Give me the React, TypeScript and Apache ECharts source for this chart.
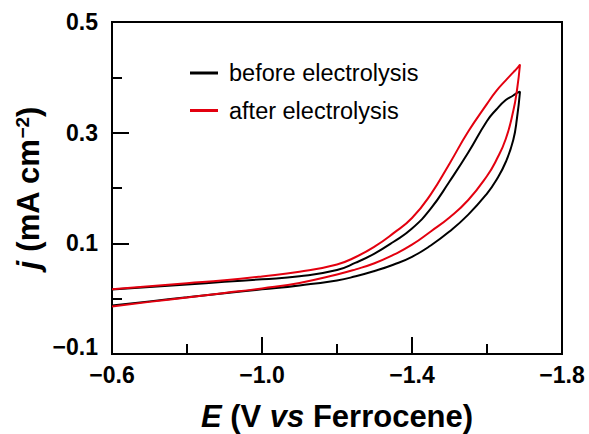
import React, { useEffect, useRef } from "react";
import * as echarts from "echarts";

// Potential (V vs Ferrocene) sampling for the forward (cathodic) and reverse branches
const E_FWD = [-0.6, -0.7, -0.8, -0.9, -1.0, -1.1, -1.2, -1.25, -1.3, -1.35, -1.4, -1.45, -1.5, -1.55, -1.6, -1.625, -1.65, -1.67, -1.68, -1.688];
const E_REV = [-1.688, -1.68, -1.67, -1.65, -1.625, -1.6, -1.55, -1.5, -1.45, -1.4, -1.35, -1.3, -1.25, -1.2, -1.1, -1.0, -0.9, -0.8, -0.7, -0.6];

// Current density (mA cm^-2)
const BEFORE_FWD = [0.0166, 0.0211, 0.0256, 0.0305, 0.035, 0.0405, 0.0518, 0.065, 0.0815, 0.1024, 0.1268, 0.1628, 0.2118, 0.264, 0.3211, 0.3419, 0.359, 0.3672, 0.3717, 0.374];
const BEFORE_REV = [0.374, 0.3265, 0.2868, 0.247, 0.2145, 0.1899, 0.1519, 0.1214, 0.0961, 0.0757, 0.0614, 0.05, 0.0405, 0.033, 0.024, 0.0168, 0.0099, 0.0025, -0.0049, -0.0123];
const AFTER_FWD = [0.0169, 0.0224, 0.0278, 0.0332, 0.0402, 0.0486, 0.0619, 0.0753, 0.094, 0.118, 0.1458, 0.1885, 0.244, 0.302, 0.352, 0.3755, 0.3945, 0.4089, 0.4161, 0.4232];
const AFTER_REV = [0.4232, 0.3771, 0.3392, 0.2886, 0.2506, 0.2217, 0.1783, 0.1467, 0.1215, 0.0975, 0.079, 0.064, 0.053, 0.0437, 0.0285, 0.0185, 0.0102, 0.0022, -0.0058, -0.0141];

const SERIES_NAMES = ["before electrolysis", "after electrolysis"];
const X_MAJOR = [-0.6, -1.0, -1.4, -1.8];
const X_MINOR = [-0.8, -1.2, -1.6];
const Y_MAJOR = [-0.1, 0.1, 0.3, 0.5];
const Y_MINOR = [0, 0.2, 0.4];

const FONT = "Liberation Sans, Arial, sans-serif";

function loop(fwd: number[], rev: number[]) {
  const a = E_FWD.map((e, i) => [e, fwd[i]]);
  const b = E_REV.slice(1).map((e, i) => [e, rev[i + 1]]);
  return a.concat(b);
}

const fmt = (v: number) => v.toFixed(1).replace("-", "\u2212");

export default function App() {
  const ref = useRef<HTMLDivElement>(null);
  useEffect(() => {
    if (!ref.current) return;
    const chart = echarts.init(ref.current, null, { renderer: "svg" });
    const labelStyle = {
      color: "#000",
      fontSize: 23,
      fontWeight: "bold" as const,
      fontFamily: FONT,
    };
    const nameStyle = {
      color: "#000",
      fontSize: 31,
      fontWeight: "bold" as const,
      fontFamily: FONT,
      rich: {
        i: { fontStyle: "italic", fontWeight: "bold", fontSize: 31, fontFamily: FONT, color: "#000" },
        sup: { fontSize: 19, fontWeight: "bold", fontFamily: FONT, color: "#000", verticalAlign: "top", padding: [0, 0, 12, 0] },
      },
    };
    const axisLine = { show: true, onZero: false, lineStyle: { color: "#000", width: 2 } };
    chart.setOption({
      animation: false,
      backgroundColor: "#fff",
      grid: {
        left: 112,
        top: 22,
        right: 27,
        bottom: 80,
        show: true,
        borderColor: "#000",
        borderWidth: 2,
        containLabel: false,
        outerBoundsMode: "none",
      },
      legend: {
        data: SERIES_NAMES,
        orient: "vertical",
        left: 185,
        top: 56,
        itemWidth: 28,
        itemHeight: 3,
        icon: "rect",
        itemGap: 13.5,
        textStyle: { color: "#000", fontSize: 23.5, fontFamily: FONT, lineHeight: 24, padding: [0, 0, 0, 6] },
      },
      xAxis: [
        {
          type: "value",
          min: -1.8,
          max: -0.6,
          inverse: true,
          interval: 0.2,
          axisLine,
          splitLine: { show: false },
          axisTick: { show: true, inside: true, length: 17, customValues: X_MAJOR, lineStyle: { color: "#000", width: 2 } },
          axisLabel: { ...labelStyle, margin: 9, customValues: X_MAJOR, formatter: (v: number) => fmt(v) },
          name: "{i|E} (V {i|vs} Ferrocene)",
          nameLocation: "middle",
          nameGap: 47,
          nameMoveOverlap: false,
          nameTextStyle: nameStyle,
        },
        {
          type: "value",
          min: -1.8,
          max: -0.6,
          inverse: true,
          interval: 0.2,
          position: "bottom",
          axisLine: { show: false, onZero: false },
          splitLine: { show: false },
          axisTick: { show: true, inside: true, length: 10, customValues: X_MINOR, lineStyle: { color: "#000", width: 2 } },
          axisLabel: { show: false },
        },
      ],
      yAxis: [
        {
          type: "value",
          min: -0.1,
          max: 0.5,
          interval: 0.1,
          axisLine,
          splitLine: { show: false },
          axisTick: { show: true, inside: true, length: 17, customValues: Y_MAJOR, lineStyle: { color: "#000", width: 2 } },
          axisLabel: {
            ...labelStyle,
            margin: 14,
            customValues: Y_MAJOR,
            formatter: (v: number) => (Math.abs(v + 0.1) < 1e-9 ? `{lo|${fmt(v)}}` : fmt(v)),
            rich: { lo: { ...labelStyle, padding: [0, 0, 14, 0] } },
          },
          name: "{i|j} (mA cm{sup|\u22122})",
          nameLocation: "middle",
          nameGap: 68,
          nameMoveOverlap: false,
          nameTextStyle: nameStyle,
        },
        {
          type: "value",
          min: -0.1,
          max: 0.5,
          interval: 0.1,
          position: "left",
          axisLine: { show: false, onZero: false },
          splitLine: { show: false },
          axisTick: { show: true, inside: true, length: 10, customValues: Y_MINOR, lineStyle: { color: "#000", width: 2 } },
          axisLabel: { show: false },
        },
      ],
      series: [
        {
          name: SERIES_NAMES[0],
          type: "line",
          data: loop(BEFORE_FWD, BEFORE_REV),
          showSymbol: false,
          symbol: "none",
          smooth: 0.5,
          color: "#000",
          lineStyle: { color: "#000", width: 2 },
        },
        {
          name: SERIES_NAMES[1],
          type: "line",
          data: loop(AFTER_FWD, AFTER_REV),
          showSymbol: false,
          symbol: "none",
          smooth: 0.5,
          color: "#e3000f",
          lineStyle: { color: "#e3000f", width: 2 },
        },
      ],
    });
    return () => chart.dispose();
  }, []);
  return (
    <div
      ref={ref}
      style={{ position: "fixed", left: 0, top: 0, width: 589, height: 434 }}
    />
  );
}
